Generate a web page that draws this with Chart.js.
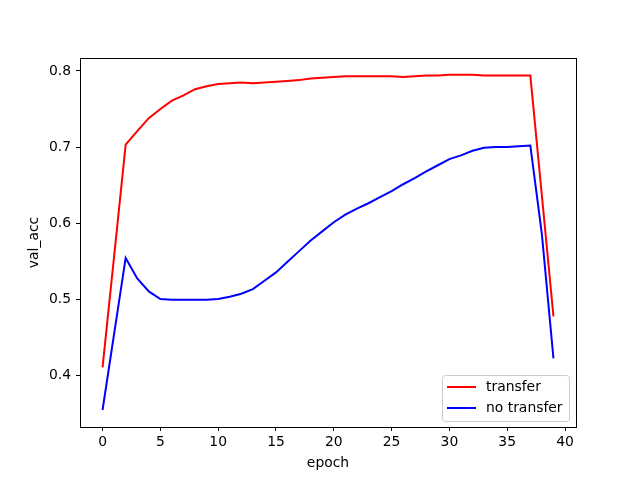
<!DOCTYPE html>
<html>
<head>
<meta charset="utf-8">
<script src="https://cdn.jsdelivr.net/npm/chart.js@4/dist/chart.umd.min.js"></script>
<style>
  html, body { margin: 0; padding: 0; background: #fff; }
  #wrap { width: 640px; height: 480px; }
</style>
</head>
<body>
<div id="wrap"><canvas id="accChart" width="640" height="480"></canvas></div>
<script>
// epochs 0..39
const epochs = [];
for (let i = 0; i < 40; i++) epochs.push(i);

const transferAcc = [
  0.410, 0.556, 0.703, 0.721, 0.738, 0.750, 0.761, 0.768, 0.776, 0.780,
  0.783, 0.784, 0.785, 0.784, 0.785, 0.786, 0.787, 0.788, 0.790, 0.791,
  0.792, 0.793, 0.793, 0.793, 0.793, 0.793, 0.792, 0.793, 0.794, 0.794,
  0.795, 0.795, 0.795, 0.794, 0.794, 0.794, 0.794, 0.794, 0.636, 0.477
];

const noTransferAcc = [
  0.354, 0.454, 0.554, 0.527, 0.510, 0.500, 0.499, 0.499, 0.499, 0.499,
  0.500, 0.503, 0.507, 0.513, 0.524, 0.535, 0.549, 0.563, 0.577, 0.589,
  0.601, 0.611, 0.619, 0.626, 0.634, 0.642, 0.651, 0.659, 0.668, 0.676,
  0.684, 0.689, 0.695, 0.699, 0.700, 0.700, 0.701, 0.702, 0.585, 0.422
];

const xTicks = [0, 5, 10, 15, 20, 25, 30, 35, 40];
const yTicks = [0.4, 0.5, 0.6, 0.7, 0.8];

const FONT = { family: 'DejaVu Sans', size: 13.9 };

// matplotlib-like box around the plot area
const frameBox = {
  id: 'frameBox',
  afterDraw(chart) {
    const { ctx, chartArea: a } = chart;
    ctx.save();
    ctx.strokeStyle = '#000';
    ctx.lineWidth = 1;
    ctx.strokeRect(Math.round(a.left) + 0.5, Math.round(a.top) + 0.5,
                   Math.round(a.right - a.left), Math.round(a.bottom - a.top));
    ctx.restore();
  }
};

// legend box in the lower right corner of the plot
const cornerLegend = {
  id: 'cornerLegend',
  afterDraw(chart) {
    const { ctx, chartArea: a } = chart;
    const sets = chart.data.datasets;
    const rowH = 21;
    const w = 127, h = 4 + rowH * sets.length + 0;
    const x = a.right - 7 - w, y = a.bottom - 6 - h;
    ctx.save();
    ctx.beginPath();
    ctx.roundRect(x + 0.5, y + 0.5, w, h, 3);
    ctx.fillStyle = 'rgba(255,255,255,0.8)';
    ctx.fill();
    ctx.strokeStyle = '#cccccc';
    ctx.lineWidth = 1;
    ctx.stroke();
    ctx.font = FONT.size + 'px ' + FONT.family;
    ctx.textBaseline = 'middle';
    sets.forEach((ds, i) => {
      const cy = y + 12 + i * rowH;
      ctx.strokeStyle = ds.borderColor;
      ctx.lineWidth = 2;
      ctx.beginPath();
      ctx.moveTo(x + 5, cy);
      ctx.lineTo(x + 34, cy);
      ctx.stroke();
      ctx.fillStyle = '#000';
      ctx.fillText(ds.label, x + 44, cy);
    });
    ctx.restore();
  }
};

new Chart(document.getElementById('accChart'), {
  type: 'line',
  data: {
    labels: epochs,
    datasets: [
      {
        label: 'transfer',
        data: transferAcc,
        borderColor: '#ff0000',
        borderWidth: 2,
        pointRadius: 0,
        tension: 0,
        fill: false
      },
      {
        label: 'no transfer',
        data: noTransferAcc,
        borderColor: '#0000ff',
        borderWidth: 2,
        pointRadius: 0,
        tension: 0,
        fill: false
      }
    ]
  },
  options: {
    responsive: false,
    animation: false,
    devicePixelRatio: 1,
    layout: { padding: { left: 0, right: 64, top: 58, bottom: 0 } },
    plugins: {
      legend: { display: false },
      tooltip: { enabled: false }
    },
    scales: {
      x: {
        type: 'linear',
        min: -1.95,
        max: 40.95,
        afterBuildTicks: scale => { scale.ticks = xTicks.map(v => ({ value: v })); },
        afterFit: scale => { scale.height = 53; },
        grid: { drawOnChartArea: false, tickLength: 4, color: '#000' },
        border: { color: '#000' },
        ticks: { font: FONT, color: '#000', padding: 3, maxRotation: 0 },
        title: { display: true, text: 'epoch', font: FONT, color: '#000', padding: { top: 0, bottom: 8 } }
      },
      y: {
        type: 'linear',
        min: 0.3316,
        max: 0.8171,
        afterBuildTicks: scale => { scale.ticks = yTicks.map(v => ({ value: v })); },
        afterFit: scale => { scale.width = 80; },
        grid: { drawOnChartArea: false, tickLength: 4, color: '#000' },
        border: { color: '#000' },
        ticks: { font: FONT, color: '#000', padding: 5, callback: v => v.toFixed(1) },
        title: { display: true, text: 'val_acc', font: FONT, color: '#000', padding: { top: 26, bottom: 0 } }
      }
    }
  },
  plugins: [frameBox, cornerLegend]
});
</script>
</body>
</html>
